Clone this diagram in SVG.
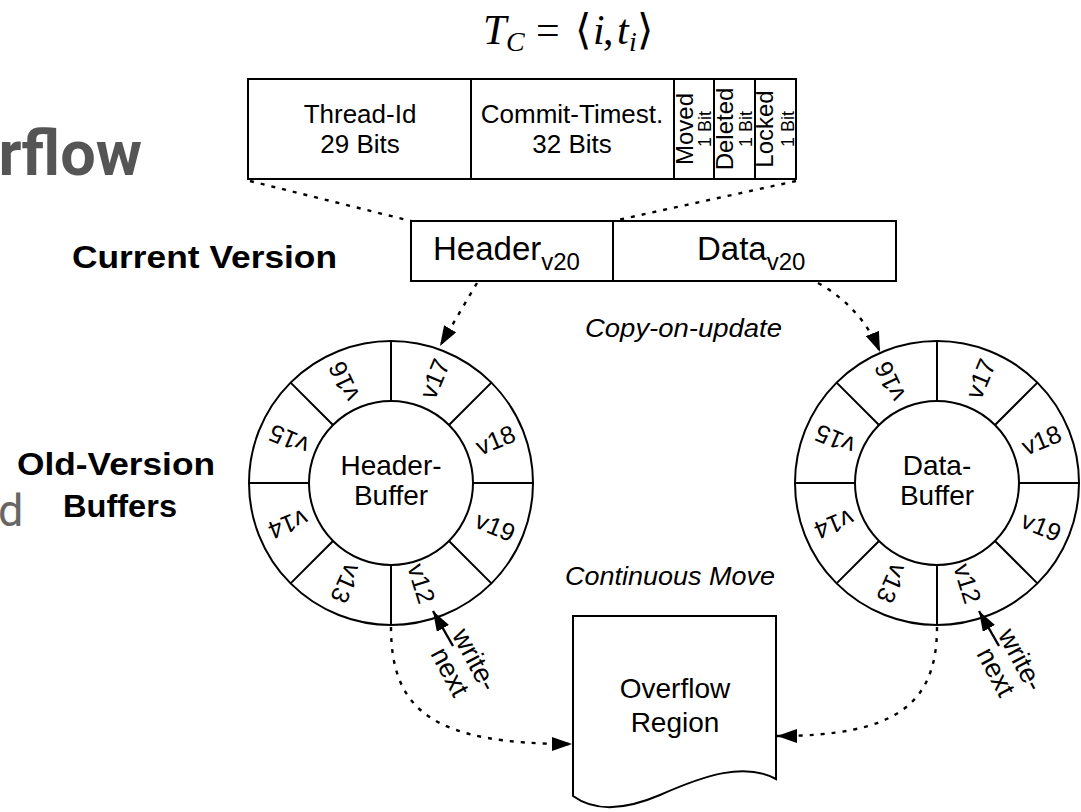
<svg xmlns="http://www.w3.org/2000/svg" width="1081" height="812" viewBox="0 0 1081 812">
  <style>
    .box { fill: #fff; stroke: #000; stroke-width: 2; }
    .ln { stroke: #000; stroke-width: 2; fill: none; }
    .dot { stroke: #000; stroke-width: 2.4; fill: none; stroke-dasharray: 4 7; }
    .solid { stroke: #000; stroke-width: 2.4; fill: none; }
    .t { font-family: "Liberation Sans", Arial, Helvetica, sans-serif; fill: #000; }
    .lab { font-family: "Liberation Sans", Arial, Helvetica, sans-serif; font-size: 25px; fill: #000; text-anchor: middle; dominant-baseline: central; }
    .ctr { font-family: "Liberation Sans", Arial, Helvetica, sans-serif; font-size: 28px; fill: #000; text-anchor: middle; }
    .bold { font-family: "Liberation Sans", Arial, Helvetica, sans-serif; font-weight: bold; fill: #000; }
    .it { font-family: "Liberation Sans", Arial, Helvetica, sans-serif; font-style: italic; fill: #000; }
    .math { font-family: "Liberation Serif", "DejaVu Serif", serif; fill: #000; }
  </style>
  <defs>
    <marker id="ah" viewBox="0 0 20 14" refX="20" refY="7" markerWidth="20" markerHeight="14" markerUnits="userSpaceOnUse" orient="auto">
      <path d="M0,0 L20,7 L0,14 z" fill="#000"/>
    </marker>
  </defs>

  <rect width="1081" height="812" fill="#fff"/>

  <!-- slide text fragments at the left edge -->
  <g id="slide-text">
    <text x="142" y="175" text-anchor="end" font-family="Roboto, 'Noto Sans', sans-serif" font-weight="bold" font-size="63" fill="#555">rflow</text>
    <text x="-2" y="526" font-family="Roboto, 'Noto Sans', sans-serif" font-size="45" fill="#666">d</text>
  </g>

  <!-- title formula -->
  <g id="title">
    <text class="math" font-size="42" y="44">
      <tspan x="483" font-style="italic">T</tspan>
      <tspan x="506" y="51" font-size="28" font-style="italic">C</tspan>
      <tspan x="536" y="44">=</tspan>
      <tspan x="575">⟨</tspan>
      <tspan x="593" font-style="italic">i</tspan>
      <tspan x="603">,</tspan>
      <tspan x="617" font-style="italic">t</tspan>
      <tspan x="629" y="51" font-size="28" font-style="italic">i</tspan>
      <tspan x="637" y="44">⟩</tspan>
    </text>
  </g>

  <!-- header layout -->
  <g id="header-layout">
    <rect class="box" x="248" y="79" width="548" height="100"/>
    <line class="ln" x1="471" y1="79" x2="471" y2="179"/>
    <line class="ln" x1="674" y1="79" x2="674" y2="179"/>
    <line class="ln" x1="714" y1="79" x2="714" y2="179"/>
    <line class="ln" x1="755" y1="79" x2="755" y2="179"/>
    <text class="t" font-size="26" text-anchor="middle" x="360" y="123">Thread-Id</text>
    <text class="t" font-size="26" text-anchor="middle" x="360" y="153">29 Bits</text>
    <text class="t" font-size="26" text-anchor="middle" x="572" y="123">Commit-Timest.</text>
    <text class="t" font-size="26" text-anchor="middle" x="572" y="153">32 Bits</text>
    <text class="t" font-size="24" text-anchor="middle" transform="translate(693,129) rotate(-90)">Moved</text>
    <text class="t" font-size="18" text-anchor="middle" transform="translate(711,129) rotate(-90)">1 Bit</text>
    <text class="t" font-size="24" text-anchor="middle" transform="translate(733,129) rotate(-90)">Deleted</text>
    <text class="t" font-size="18" text-anchor="middle" transform="translate(752,129) rotate(-90)">1 Bit</text>
    <text class="t" font-size="24" text-anchor="middle" transform="translate(773,129) rotate(-90)">Locked</text>
    <text class="t" font-size="18" text-anchor="middle" transform="translate(794,129) rotate(-90)">1 Bit</text>
  </g>

  <!-- current version record -->
  <g id="current-version">
    <text class="bold" x="72" y="268" font-size="32" textLength="265" lengthAdjust="spacingAndGlyphs">Current Version</text>
    <rect class="box" x="411" y="221" width="485" height="60"/>
    <line class="ln" x1="613" y1="221" x2="613" y2="281"/>
    <text class="t" font-size="33" x="433" y="260">Header<tspan font-size="24" dy="10">v20</tspan></text>
    <text class="t" font-size="33" x="697" y="260">Data<tspan font-size="24" dy="10">v20</tspan></text>
  </g>

  <!-- buffers label -->
  <g id="old-version-label">
    <text class="bold" font-size="32" text-anchor="middle" x="116" y="475" textLength="198" lengthAdjust="spacingAndGlyphs">Old-Version</text>
    <text class="bold" font-size="32" text-anchor="middle" x="120" y="517" textLength="114" lengthAdjust="spacingAndGlyphs">Buffers</text>
  </g>

  <!-- header ring buffer -->
  <g id="header-buffer" transform="translate(391,483)">
    <circle class="box" r="142"/>
    <circle class="box" r="82"/>
    <path class="ln" d="M82,0H142 M-82,0H-142 M0,82V142 M0,-82V-142 M58,58L100.4,100.4 M-58,58L-100.4,100.4 M-58,-58L-100.4,-100.4 M58,-58L100.4,-100.4"/>
    <text class="lab" transform="rotate(-67.5) translate(113,0)">v17</text>
    <text class="lab" transform="rotate(-22.5) translate(113,0)">v18</text>
    <text class="lab" transform="rotate(22.5) translate(113,0)">v19</text>
    <text class="lab" transform="rotate(73) translate(105,0)">v12</text>
    <text class="lab" transform="rotate(114) translate(110,0)">v13</text>
    <text class="lab" transform="rotate(158) translate(111,0)">v14</text>
    <text class="lab" transform="rotate(203) translate(111,0)">v15</text>
    <text class="lab" transform="rotate(245) translate(112,0)">v16</text>
    <text class="ctr" x="0" y="-8">Header-</text>
    <text class="ctr" x="0" y="22">Buffer</text>
  </g>

  <!-- data ring buffer -->
  <g id="data-buffer" transform="translate(937,483)">
    <circle class="box" r="142"/>
    <circle class="box" r="82"/>
    <path class="ln" d="M82,0H142 M-82,0H-142 M0,82V142 M0,-82V-142 M58,58L100.4,100.4 M-58,58L-100.4,100.4 M-58,-58L-100.4,-100.4 M58,-58L100.4,-100.4"/>
    <text class="lab" transform="rotate(-67.5) translate(113,0)">v17</text>
    <text class="lab" transform="rotate(-22.5) translate(113,0)">v18</text>
    <text class="lab" transform="rotate(22.5) translate(113,0)">v19</text>
    <text class="lab" transform="rotate(73) translate(105,0)">v12</text>
    <text class="lab" transform="rotate(114) translate(110,0)">v13</text>
    <text class="lab" transform="rotate(158) translate(111,0)">v14</text>
    <text class="lab" transform="rotate(203) translate(111,0)">v15</text>
    <text class="lab" transform="rotate(245) translate(112,0)">v16</text>
    <text class="ctr" x="0" y="-8">Data-</text>
    <text class="ctr" x="0" y="22">Buffer</text>
  </g>

  <!-- overflow region (document shape) -->
  <g id="overflow-region">
    <path class="box" d="M573,616 H776 V779 C745,762 705,775 660,795 C625,810 595,812 573,796 Z"/>
    <text class="ctr" font-size="27" x="675" y="698">Overflow</text>
    <text class="ctr" font-size="27" x="675" y="732">Region</text>
  </g>

  <!-- connectors -->
  <g id="connectors">
    <line class="dot" x1="250" y1="181" x2="411" y2="221"/>
    <line class="dot" x1="796" y1="181" x2="613" y2="221"/>
    <path class="dot" d="M477,283 L440,346" marker-end="url(#ah)"/>
    <path class="dot" d="M818,283 Q862,308 880,352" marker-end="url(#ah)"/>
    <path class="dot" d="M391,627 C391,712 435,744 572,744" marker-end="url(#ah)"/>
    <path class="dot" d="M937,627 C937,705 895,736 777,736" marker-end="url(#ah)"/>
    <path class="solid" d="M453,646 L433,611" marker-end="url(#ah)"/>
    <path class="solid" d="M999,646 L979,611" marker-end="url(#ah)"/>
    <text class="it" font-size="25" x="585" y="337" textLength="197" lengthAdjust="spacingAndGlyphs">Copy-on-update</text>
    <text class="it" font-size="25" x="565" y="585" textLength="210" lengthAdjust="spacingAndGlyphs">Continuous Move</text>
    <text class="t" font-size="27" text-anchor="middle" transform="translate(467,664) rotate(62)">write-</text>
    <text class="t" font-size="27" text-anchor="middle" transform="translate(442,676) rotate(62)">next</text>
    <text class="t" font-size="27" text-anchor="middle" transform="translate(1013,664) rotate(62)">write-</text>
    <text class="t" font-size="27" text-anchor="middle" transform="translate(988,676) rotate(62)">next</text>
  </g>
</svg>
